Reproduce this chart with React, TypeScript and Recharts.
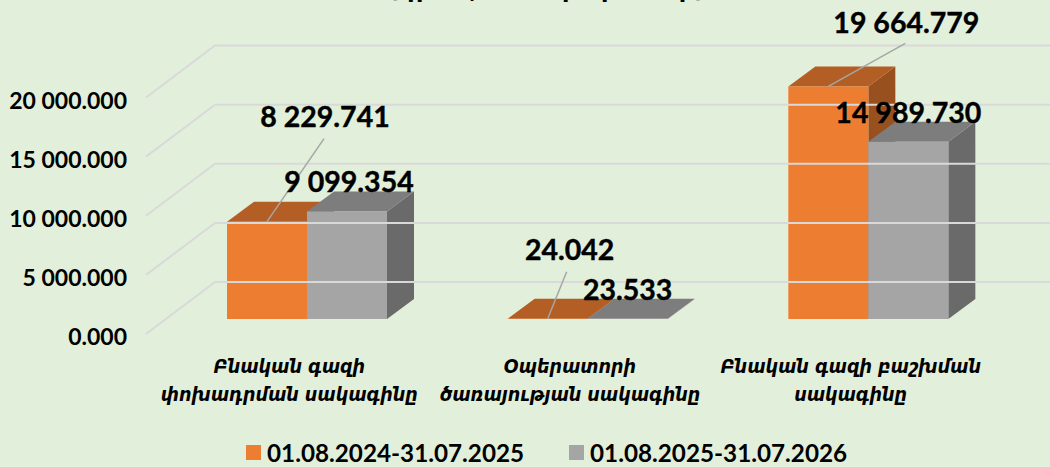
import React from "react";
import { BarChart, Bar, XAxis, YAxis, Legend, LabelList } from "recharts";

const categories = [
  "Բնական գազի\nփոխադրման սակագինը",
  "Օպերատորի\nծառայության սակագինը",
  "Բնական գազի բաշխման\nսակագինը",
];
const series2025 = [8229.741, 24.042, 19664.779];
const series2026 = [9099.354, 23.533, 14989.73];
const yTicks = [0, 5000, 10000, 15000, 20000];
const seriesNames = ["01.08.2024-31.07.2025", "01.08.2025-31.07.2026"];

const data = categories.map((name, i) => ({ name, a: series2025[i], b: series2026[i] }));

// fake 3D depth of the floor and of the bars
const FLOOR_LEFT = 146;
const FLOOR_DX = 69;
const FLOOR_DY = 52;
const FRONT_DX = 21;
const FRONT_DY = 15;
const BAR_DX = 27;
const BAR_DY = 20;
const NUM_FONT = "Lato, 'Open Sans', sans-serif";

const fmt = (v: number) =>
  v.toFixed(3).replace(/\B(?=(\d{3})+(?!\d))(?=.*\.)/g, " ");

const Box = ({ x, y, width, height, front, top, side }: any) => (
  <g>
    <polygon
      points={`${x + width},${y} ${x + width + BAR_DX},${y - BAR_DY} ${x + width + BAR_DX},${y + height - BAR_DY} ${x + width},${y + height}`}
      fill={side}
    />
    <polygon
      points={`${x},${y} ${x + BAR_DX},${y - BAR_DY} ${x + width + BAR_DX},${y - BAR_DY} ${x + width},${y}`}
      fill={top}
    />
    <rect x={x} y={y} width={width} height={height} fill={front} />
  </g>
);

const YTick = ({ y, payload }: any) => {
  const fy = y + FRONT_DY;
  return (
    <g>
      <polyline
        points={`${FLOOR_LEFT},${fy} ${FLOOR_LEFT + FLOOR_DX},${fy - FLOOR_DY} 1050,${fy - FLOOR_DY}`}
        fill="none"
        stroke="#d9d9d9"
        strokeWidth={2}
      />
      <text
        x={127}
        y={fy + 2}
        textAnchor="end"
        dominantBaseline="central"
        fontFamily={NUM_FONT}
        fontWeight={700}
        fontSize={23}
        fill="#000"
      >
        {fmt(payload.value)}
      </text>
    </g>
  );
};

const XTick = ({ x, y, payload }: any) => {
  const lines = String(payload.value).split("\n");
  return (
    <text
      textAnchor="middle"
      fontFamily="'DejaVu Sans Condensed', 'DejaVu Sans'"
      fontStyle="italic"
      fontWeight={700}
      fontSize={19.5}
      fill="#000"
    >
      {lines.map((l, i) => (
        <tspan key={i} x={x - FRONT_DX + 3} y={y + 46 + i * 28}>
          {l}
        </tspan>
      ))}
    </text>
  );
};

// label offsets from the bar's top centre, [label dx, dy, leader end dx, dy]
const orangeLabelPos = [
  [58, -106, 57, -83],
  [22, -70, 19, -47],
  [78, -64, 77, -43],
];
const grayLabelDx = [2, 0, 0];

const OrangeLabel = ({ x, y, width, value, index }: any) => {
  const [dx, dy, lx, ly] = orangeLabelPos[index];
  const cx = x + width / 2;
  return (
    <g>
      <line x1={cx} y1={y} x2={cx + lx} y2={y + ly} stroke="#a6a6a6" strokeWidth={1.5} />
      <text x={cx + dx} y={y + dy} textAnchor="middle" dominantBaseline="central" fontFamily={NUM_FONT} fontWeight={700} fontSize={28.5} stroke="#000" strokeWidth={0.4} fill="#000">
        {fmt(value)}
      </text>
    </g>
  );
};

const GrayLabel = ({ x, y, width, value, index }: any) => (
  <text x={x + width / 2 + grayLabelDx[index]} y={y - 30} textAnchor="middle" dominantBaseline="central" fontFamily={NUM_FONT} fontWeight={700} fontSize={28.5} stroke="#000" strokeWidth={0.4} fill="#000">
    {fmt(value)}
  </text>
);

const LegendRow = ({ payload }: any) => (
  <div style={{ position: "relative", height: 30 }}>
    {(payload || []).map((p: any, i: number) => (
      <div key={p.value} style={{ position: "absolute", left: i === 0 ? 246 : 569, top: 0, display: "flex", alignItems: "center", height: 30 }}>
        <span style={{ width: 15, height: 15, background: p.color, display: "inline-block", marginRight: 6 }} />
        <span style={{ fontFamily: NUM_FONT, fontWeight: 700, fontSize: 24.25, color: "#000", whiteSpace: "nowrap" }}>{p.value}</span>
      </div>
    ))}
  </div>
);

export default function App() {
  return (
    <div style={{ position: "absolute", left: 0, top: 0, width: 1050, height: 467, overflow: "hidden", background: "#e2efda" }}>
      <BarChart
        width={1050}
        height={467}
        data={data}
        barGap={0}
        barCategoryGap={60}
        margin={{ top: 82.5, right: 41, bottom: 88, left: 166 }}
      >
        <XAxis dataKey="name" axisLine={false} tickLine={false} tick={<XTick />} interval={0} />
        <YAxis
          width={1}
          domain={[0, 20000]}
          ticks={yTicks}
          axisLine={false}
          tickLine={false}
          tick={<YTick />}
          interval={0}
        />
        <Legend verticalAlign="bottom" align="left" content={<LegendRow />} wrapperStyle={{ left: 0, bottom: 0, width: 1050 }} />
        <Bar
          dataKey="a"
          name={seriesNames[0]}
          fill="#ed7d31"
          isAnimationActive={false}
          shape={(p: any) => <Box {...p} front="#ed7d31" top="#b35e25" side="#99501f" />}
        >
          <LabelList dataKey="a" content={<OrangeLabel />} />
        </Bar>
        <Bar
          dataKey="b"
          name={seriesNames[1]}
          fill="#a5a5a5"
          isAnimationActive={false}
          shape={(p: any) => <Box {...p} front="#a5a5a5" top="#7d7d7d" side="#6a6a6a" />}
        >
          <LabelList dataKey="b" content={<GrayLabel />} />
        </Bar>
      </BarChart>
      <div style={{ position: "absolute", left: 388, top: -25, fontFamily: "'DejaVu Sans'", fontWeight: 700, fontSize: 24, color: "#000", whiteSpace: "nowrap" }}>
        (դրամ, 1000 խոր.մետր)
      </div>
    </div>
  );
}
